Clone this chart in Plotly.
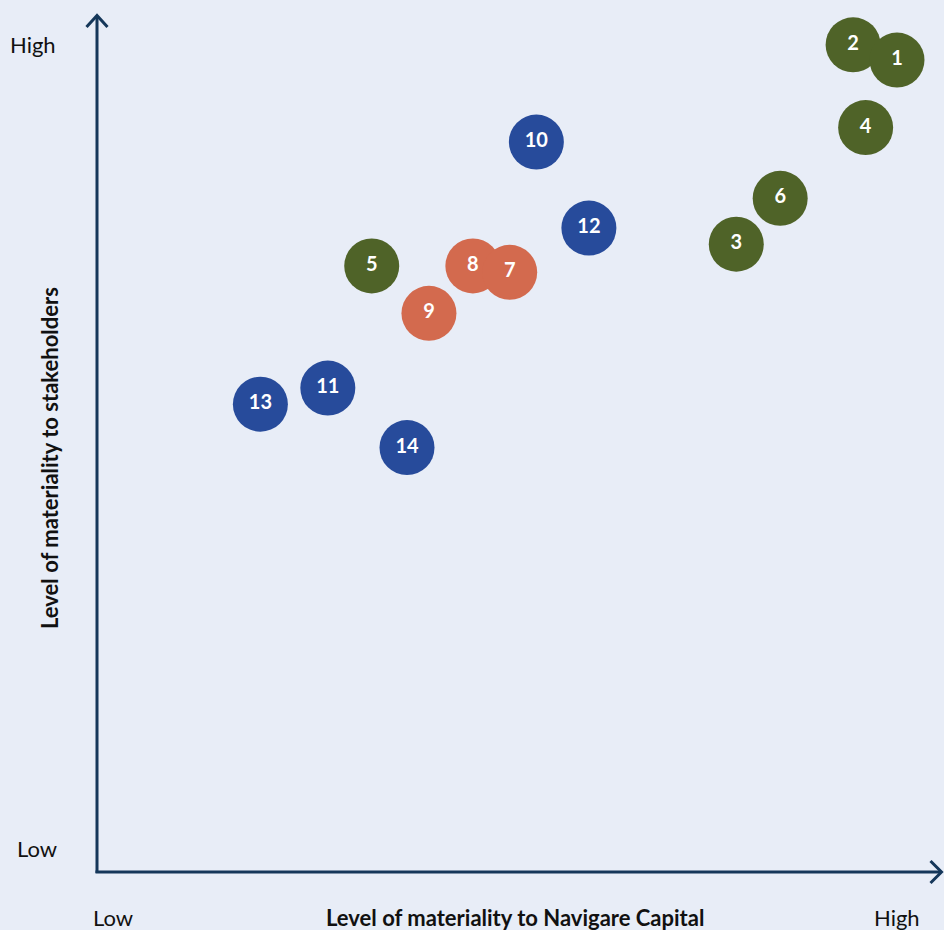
import plotly.graph_objects as go

W, H = 944, 930

# Materiality topics: scores on a 0 (Low) .. 10 (High) scale
topic_ids = ["1", "2", "3", "4", "5", "6", "7", "8", "9", "10", "11", "12", "13", "14"]
company_score = [10.0, 9.44, 7.95, 9.60, 3.30, 8.51, 5.06, 4.59, 4.03, 5.40, 2.74, 6.07, 1.88, 3.75]
stakeholder_score = [9.80, 9.99, 7.51, 8.96, 7.24, 8.08, 7.16, 7.24, 6.65, 8.78, 5.72, 7.71, 5.52, 4.98]
topic_group = ["env", "env", "env", "env", "env", "env", "soc", "soc", "soc",
               "gov", "gov", "gov", "gov", "gov"]

group_colors = {"env": "#4F6328", "soc": "#D36A4E", "gov": "#274B9B"}

axis_color = "#15375A"
bg = "#E8EDF7"

fig = go.Figure()

# draw in descending id order so lower numbers sit on top where circles overlap
for grp in ["gov", "soc", "env"]:
    idx = [i for i in range(len(topic_ids)) if topic_group[i] == grp][::-1]
    fig.add_trace(go.Scatter(
        x=[company_score[i] for i in idx],
        y=[stakeholder_score[i] for i in idx],
        text=[topic_ids[i] for i in idx],
        mode="markers+text",
        textposition="middle center",
        textfont=dict(family="Lato, sans-serif", size=20, color="white", weight="bold"),
        marker=dict(size=55, color=group_colors[grp], line=dict(width=0), opacity=1),
        hoverinfo="skip",
        showlegend=False,
    ))


def px(x):
    return x / W


def py(y):
    return 1 - y / H


line = dict(color=axis_color, width=3)
shapes = [
    # vertical axis with arrowhead
    dict(type="line", xref="paper", yref="paper", x0=px(97), y0=py(873), x1=px(97), y1=py(16), line=line),
    dict(type="path", xref="paper", yref="paper",
         path=f"M {px(86.5)} {py(27)} L {px(97)} {py(15.5)} L {px(107.5)} {py(27)}", line=line),
    # horizontal axis with arrowhead
    dict(type="line", xref="paper", yref="paper", x0=px(95.5), y0=py(872), x1=px(941), y1=py(872), line=line),
    dict(type="path", xref="paper", yref="paper",
         path=f"M {px(930.5)} {py(861)} L {px(941.5)} {py(872)} L {px(930.5)} {py(883)}", line=line),
]

label_font = dict(family="Lato, sans-serif", size=22, color="#111111")
title_font = dict(family="Lato, sans-serif", size=22, color="#111111", weight="bold")


def label(text, x, y, font, angle=0):
    return dict(text=text, x=px(x), y=py(y), xref="paper", yref="paper",
                xanchor="center", yanchor="middle", showarrow=False,
                textangle=angle, font=font)


annotations = [
    label("High", 33, 44, label_font),
    label("Low", 37, 848, label_font),
    label("Low", 113, 917, label_font),
    label("High", 897, 917, label_font),
    label("Level of materiality to Navigare Capital", 515, 917, title_font),
    label("Level of materiality to stakeholders", 50, 458, title_font, -90),
]

fig.update_layout(
    width=W, height=H,
    margin=dict(l=0, r=0, t=0, b=0),
    paper_bgcolor=bg, plot_bgcolor=bg,
    xaxis=dict(range=[(0 - 113) / 78.4, (W - 113) / 78.4], visible=False, fixedrange=True),
    yaxis=dict(range=[(848 - H) / 80.4, 848 / 80.4], visible=False, fixedrange=True),
    shapes=shapes,
    annotations=annotations,
)

fig.write_html("out.html", config={"displayModeBar": False})
